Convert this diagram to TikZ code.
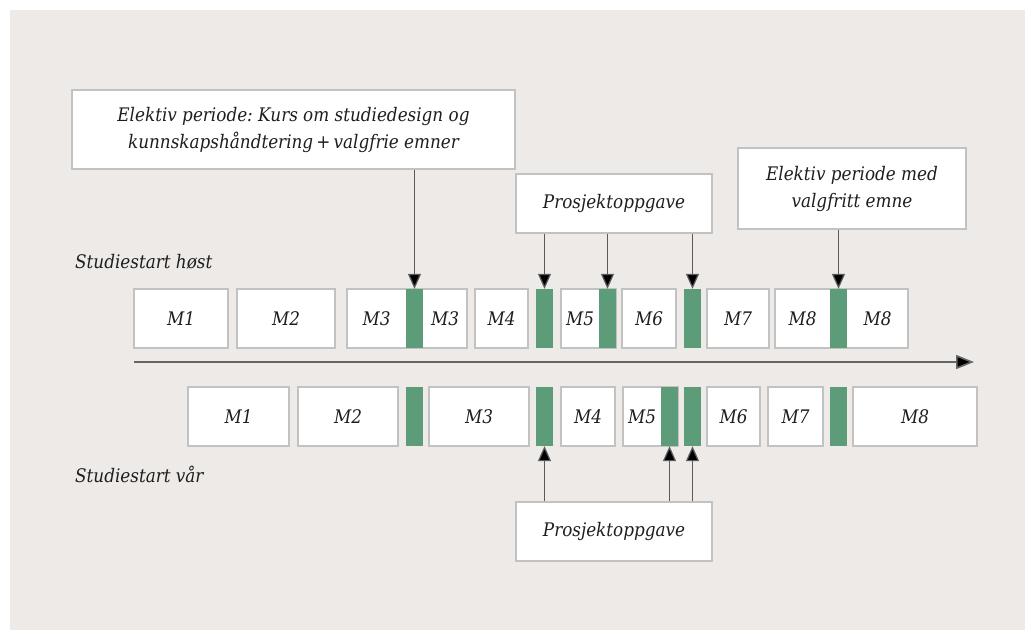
\documentclass[tikz,border=0pt]{standalone}
\usepackage{fontspec}
\IfFontExistsTF{DejaVu Serif Condensed}
  {\setmainfont{DejaVu Serif Condensed}\newcommand{\fsz}{18.7}}
  {\setmainfont{Liberation Serif}\newcommand{\fsz}{21}}
\usetikzlibrary{arrows.meta}
\definecolor{bggray}{HTML}{EDEAE8}
\definecolor{bargreen}{HTML}{5C9C78}
\definecolor{boxline}{HTML}{C2C2C2}
\definecolor{txt}{HTML}{1E1E1E}
\definecolor{conn}{HTML}{5A5A5A}
\begin{document}
\frenchspacing
\begin{tikzpicture}[x=1pt,y=-1pt,
  font=\fontsize{\fsz}{27}\selectfont\itshape, text=txt,
  mbox/.style={draw=boxline, line width=1.2pt, fill=white, minimum height=59pt, inner sep=0pt},
  gbar/.style={fill=bargreen, draw=none, minimum width=17pt, minimum height=59pt, inner sep=0pt},
  callout/.style={draw=boxline, line width=1.2pt, fill=white, inner sep=0pt, align=center},
  lbl/.style={inner sep=0pt},
  pointer/.style={draw=conn, line width=1.2pt, -{Triangle[length=15pt,width=13pt,fill=black]}},
  axis/.style={draw=gray!80!black, line width=1.6pt, -{Triangle[length=18pt,width=14pt,fill=black]}}
]
\useasboundingbox (0,0) rectangle (1025,631);
\fill[white] (0,0) rectangle (1025,631);
\fill[bggray] (10,10) rectangle (1025,630);

% ---------- top row (Studiestart host) ----------
\node[mbox, minimum width=94pt] (t1) at (181,318.5) {M1};
\node[mbox, minimum width=98pt] (t2) at (286,318.5) {M2};
\node[mbox, minimum width=120pt] (t3) at (407,318.5) {};
\node[gbar] (tg1) at (414.5,318.5) {};
\node[lbl] (t3a) at (376.5,318.5) {M3};
\node[lbl] (t3b) at (445,318.5) {M3};
\node[mbox, minimum width=53pt] (t4) at (501.5,318.5) {M4};
\node[gbar] (tg2) at (544.5,318.5) {};
\node[mbox, minimum width=55pt] (t5) at (588.5,318.5) {};
\node[gbar] (tg3) at (607.5,318.5) {};
\node[lbl] (t5a) at (580,318.5) {M5};
\node[mbox, minimum width=54pt] (t6) at (649,318.5) {M6};
\node[gbar] (tg4) at (692.5,318.5) {};
\node[mbox, minimum width=62pt] (t7) at (738,318.5) {M7};
\node[mbox, minimum width=133pt] (t8) at (841.5,318.5) {};
\node[gbar] (tg5) at (838.5,318.5) {};
\node[lbl] (t8a) at (802.5,318.5) {M8};
\node[lbl] (t8b) at (877.5,318.5) {M8};

% ---------- axis ----------
\coordinate (axs) at (134,362);
\coordinate (axe) at (974,362);
\draw[axis] (axs) -- (axe);

% ---------- bottom row (Studiestart var) ----------
\node[mbox, minimum width=101pt] (b1) at (238.5,416.5) {M1};
\node[mbox, minimum width=100pt] (b2) at (348,416.5) {M2};
\node[gbar] (bg1) at (414.5,416.5) {};
\node[mbox, minimum width=100pt] (b3) at (479,416.5) {M3};
\node[gbar] (bg2) at (544.5,416.5) {};
\node[mbox, minimum width=54pt] (b4) at (588,416.5) {M4};
\node[mbox, minimum width=55pt] (b5) at (650.5,416.5) {};
\node[gbar] (bg3) at (669.5,416.5) {};
\node[lbl] (b5a) at (642,416.5) {M5};
\node[gbar] (bg4) at (692.5,416.5) {};
\node[mbox, minimum width=53pt] (b6) at (733.5,416.5) {M6};
\node[mbox, minimum width=55pt] (b7) at (795.5,416.5) {M7};
\node[gbar] (bg5) at (838.5,416.5) {};
\node[mbox, minimum width=124pt] (b8) at (915,416.5) {M8};

% ---------- row labels ----------
\node[lbl, anchor=base west] (host) at (75,268) {Studiestart høst};
\node[lbl, anchor=base west] (var) at (75,482) {Studiestart vår};

% ---------- callouts ----------
\node[callout, minimum width=443pt, minimum height=79pt] (el1) at (293.5,129.5)
  {Elektiv periode: Kurs om studiedesign og\\kunnskapshåndtering\,+\,valgfrie emner};
\node[callout, minimum width=196pt, minimum height=59pt] (pt) at (614,203.5) {Prosjektoppgave};
\node[callout, minimum width=228pt, minimum height=81pt] (el2) at (852,188.5)
  {Elektiv periode med\\valgfritt emne};
\node[callout, minimum width=196pt, minimum height=59pt] (pb) at (614,531.5) {Prosjektoppgave};

% ---------- pointers ----------
\draw[pointer] (el1.south -| tg1.north) -- (tg1.north);
\draw[pointer] (pt.south -| tg2.north) -- (tg2.north);
\draw[pointer] (pt.south -| tg3.north) -- (tg3.north);
\draw[pointer] (pt.south -| tg4.north) -- (tg4.north);
\draw[pointer] (el2.south -| tg5.north) -- (tg5.north);
\draw[pointer] (pb.north -| bg2.south) -- (bg2.south);
\draw[pointer] (pb.north -| bg3.south) -- (bg3.south);
\draw[pointer] (pb.north -| bg4.south) -- (bg4.south);
\end{tikzpicture}
\end{document}
